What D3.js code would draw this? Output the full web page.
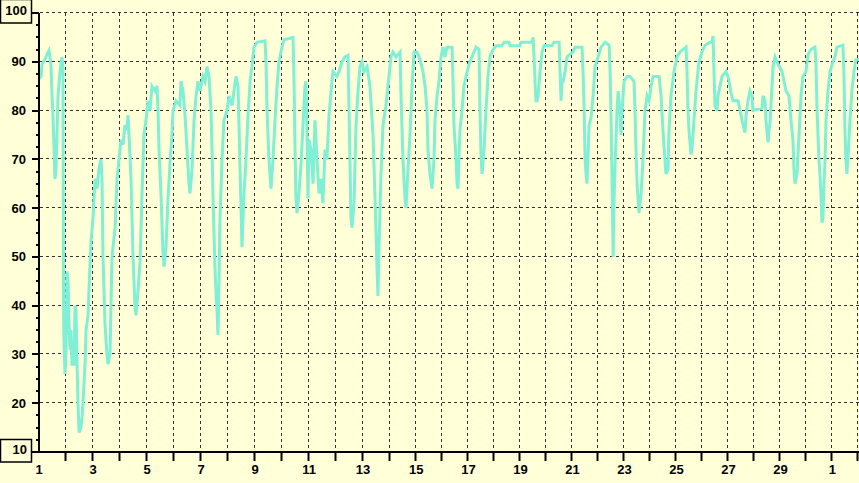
<!DOCTYPE html>
<html><head><meta charset="utf-8">
<script src="https://cdn.jsdelivr.net/npm/d3@7"></script>
<style>html,body{margin:0;padding:0;background:#FFFFD8;overflow:hidden}</style>
</head><body><svg id="c" width="859" height="483"></svg>
<script>
// hours since start of day 1, and relative humidity (%)
const hours = [0,1.8,2.7,5.3,7.1,8.9,9.8,10.7,11.6,12.4,13.3,14.2,15.1,16.9,18.7,20.4,21.3,21.8,22.2,23.1,24.0,24.9,25.8,26.7,27.6,28.4,29.3,31.1,32.0,32.9,33.8,34.7,35.6,37.3,38.2,39.1,40.9,41.8,43.6,44.4,46.2,48.0,49.8,51.6,53.3,55.1,56.0,56.9,58.7,60.4,61.3,63.1,64.9,67.6,69.3,71.1,72.9,74.7,76.4,78.2,79.1,80.0,81.8,83.6,85.3,86.2,88.0,89.8,91.6,93.3,95.1,96.9,98.7,100.4,103.1,104.9,105.8,106.7,108.4,110.2,111.1,112.9,114.7,116.4,118.2,119.1,121.8,125.3,126.2,128.0,129.8,131.6,133.3,134.2,136.0,137.8,139.6,141.3,143.1,145.8,147.6,149.3,151.1,152.9,153.8,154.7,156.4,157.3,158.2,159.1,160.0,160.9,162.7,164.4,167.1,168.9,171.6,173.3,175.1,176.9,177.8,178.7,179.6,180.4,182.2,184.0,185.8,187.6,189.3,191.1,193.8,200.9,201.8,202.7,204.4,206.2,208.0,209.8,211.6,213.3,216.0,217.8,225.8,226.7,227.6,228.4,229.3,231.1,232.9,234.7,236.4,237.3,238.2,239.1,240.0,241.8,243.6,245.3,247.1,248.9,250.7,252.4,254.2,256.0,257.8,260.4,261.3,264.9,266.7,269.3,272.0,274.7,275.6,276.4,277.3,278.2,280.0,281.8,283.6,285.3,287.1,288.9,291.6,294.2,296.9,298.7,299.6,300.4,301.3,302.2,304.0,305.8,308.4,311.1,312.9,314.7,317.5,321.2,322.1,323.9,325.7,326.7,328.5,330.3,332.2,334.0,336.7,339.5,342.2,344.1,345.9,346.8,348.6,350.5,352.3,353.2,355.1,356.9,358.7,360.6,362.4,364.3,368.9,369.8,370.7,372.6,373.5,374.4,376.2,378.1,379.9,381.8,384.6,387.3,391.0,393.8,394.7,395.6,396.6,398.4,400.2,402.1,403.9,406.7,409.5,415.0,416.9,421.5,422.4,431.6,432.6,442.7,443.7,444.6,445.5,446.4,447.4,448.3,450.1,452.0,453.8,461.2,463.0,467.7,468.6,469.5,470.5,471.4,473.2,475.1,480.6,482.5,488.9,489.8,490.8,491.7,492.6,493.5,495.4,497.2,499.1,500.9,503.7,506.5,510.2,513.9,514.8,515.7,516.6,517.6,518.5,519.4,521.2,522.2,523.1,524.0,524.9,525.8,527.7,530.4,533.2,536.9,537.8,538.7,539.7,540.6,541.5,543.4,545.2,547.0,548.9,550.7,552.6,554.4,560.0,561.8,563.6,564.6,566.4,568.3,569.2,571.0,573.8,576.6,579.3,584.9,585.8,586.7,587.6,589.5,590.4,592.2,594.1,596.8,599.6,602.4,607.0,608.8,609.8,610.7,611.6,613.5,614.4,616.2,618.1,621.8,623.6,625.5,626.4,628.2,632.9,634.7,636.6,637.5,639.3,640.3,642.1,643.9,645.8,646.7,655.0,656.0,657.8,658.7,660.6,661.5,662.4,663.3,665.2,667.0,669.8,673.5,675.3,677.2,679.9,681.8,683.6,684.5,685.5,687.3,689.2,691.0,692.8,695.6,697.5,700.2,703.9,704.8,705.8,706.7,707.6,708.5,709.4,710.4,711.3,712.2,713.1,714.1,715.9,717.8,720.5,722.4,724.2,729.7,730.6,731.6,732.5,733.4,734.3,736.2,738.0,739.9,741.7,744.5];
const humidity = [86.5,87,89.5,90.5,91.5,92.3,91,89,83,79,73,66,68,83,88,91,89,40,33,26,30,47,45,36,31,35,28,28,40,39,28,20,14,15,17,20,28,35,38,43,53,58,66,64,68,70,66,50,36,30,28,30,50,56,66,70,74,73,77,76,79,75,66,50,40,38,43,49,63,75,78,82,80,85,84,85,80,72,63,51,48,52,62,69,75,80,82,81,86,84,79,72,65,63,68,78,83,86,84,87,86,89,87,80,72,62,48,43,39,34,45,58,70,78,80,83,81,84,87,85,77,68,60,52,63,70,79,86,89,93,94,94.3,90,80,70,64,70,78,85,90,93,94.5,95,86,72,62,59,63,69,77,85,86,76,62,74,72,65,78,70,63,66,61,72,70,79,86,88,87,88,90,91,91.3,80,70,58,56,61,77,84,89,90,88,89,85,75,62,55,48,42,52,67,77,81,87,91,92,91,92,83,70,62,60,68,75,85,92,92,90.5,88,85,80,72,67,64,70,78,83,86,91,93,91,93,93,86,77,70,65,64,76,80,85,87,89.5,91,93,92.5,80,71,67,72,80,87,91,92.5,93.3,93.3,94,94,93.3,93.3,94,94,95,91,86,82,82,83,88,92,93.3,93.3,94,94,88,82,86,86,88,91,92,93,93,88,81,70,67,65,77,78.5,83,89,91,93,94,93.4,88,78,66,50,62,69,80,84,82,79,75,80,86,87,87,86,80,72,65,62,59,63,70,80,83,82,85,87,87,83,76,72.5,67,68,76,83,88,91,92,93,88,80,76,71,72,78,84,90,92,93.4,94,94,95.3,88,81,80,83,85,87,88,87,85,83.6,82,82,80,78,77,75.5,79,82,84,83,80,80.5,83,82,78,73.5,76,77.5,81,89,91,89.5,88,86,84,83,78,74,68,65,67,75,83,87,88,91.5,92.5,93,90,80,75,70,67,63,57,58,65,69,78,84,88,90,91,93,93.4,88,76,70,67,70,78,84,88,90.4,90.4];
const dayLabels = ["1","3","5","7","9","11","13","15","17","19","21","23","25","27","29","1"];
const yTickValues = [20,30,40,50,60,70,80,90];

const svg = d3.select("#c");
// the original axis is slightly uneven: days 1-14 are wider than later days
const x = d3.scaleLinear().domain([0, 312, 360, 744]).range([39, 390, 442.4, 858.4]);
const y = d3.scaleLinear().domain([10, 100]).range([452, 13]);
const font = "'Liberation Sans', Arial, sans-serif";
const bg = "#FFFFD8";

svg.append("rect").attr("width",859).attr("height",483).attr("fill",bg);

// grid
const grid = svg.append("g").attr("stroke","#333").attr("stroke-width",1).attr("stroke-dasharray","3,3");
d3.range(20, 101, 10).forEach(v => {
  const yy = Math.round(y(v)) - 0.5;
  grid.append("line").attr("x1",40).attr("x2",859).attr("y1",yy).attr("y2",yy);
});
d3.range(24, 745, 24).forEach(h => {
  const xx = Math.round(x(h)) - 0.5;
  grid.append("line").attr("x1",xx).attr("x2",xx).attr("y1",13).attr("y2",451);
});

// data line
const pts = hours.map((h,i)=>[h, humidity[i]]);
svg.append("path").datum(pts)
  .attr("fill","none").attr("stroke","#7FEFD6").attr("stroke-width",3)
  .attr("stroke-linejoin","miter")
  .attr("d", d3.line().x(d=>x(d[0])).y(d=>y(d[1])).curve(d3.curveLinear));

// axes
const ax = svg.append("g").attr("stroke","#000").attr("stroke-width",2);
ax.append("line").attr("x1",39).attr("x2",39).attr("y1",13).attr("y2",453);
ax.append("line").attr("x1",31).attr("x2",859).attr("y1",452).attr("y2",452);
d3.range(10, 100.1, 2.5).forEach(v => {
  const major = v % 10 === 0;
  const yy = Math.round(y(v));
  ax.append("line").attr("x1", major ? 32 : 36).attr("x2",39).attr("y1",yy).attr("y2",yy);
});
d3.range(24, 745, 24).forEach(h => {
  const xx = Math.round(x(h)) - 0.5;
  ax.append("line").attr("x1",xx).attr("x2",xx).attr("y1",452).attr("y2",461);
});

// y labels
yTickValues.forEach(v => {
  svg.append("text").attr("x",26).attr("y",y(v)+4.5).attr("text-anchor","end")
    .attr("font-family",font).attr("font-weight","bold").attr("font-size",13).attr("fill","#000").text(v);
});
svg.append("rect").attr("x",0.5).attr("y",-0.5).attr("width",31).attr("height",23.5).attr("fill",bg).attr("stroke","#000").attr("stroke-width",1.5);
svg.append("text").attr("x",27).attr("y",14.5).attr("text-anchor","end")
  .attr("font-family",font).attr("font-weight","bold").attr("font-size",13).text("100");
svg.append("rect").attr("x",0.5).attr("y",439.5).attr("width",31).attr("height",22.5).attr("fill",bg).attr("stroke","#000").attr("stroke-width",1.5);
svg.append("text").attr("x",27).attr("y",454).attr("text-anchor","end")
  .attr("font-family",font).attr("font-weight","bold").attr("font-size",13).text("10");

// x labels
dayLabels.forEach((lab,i) => {
  svg.append("text").attr("x",x(i*48)).attr("y",474).attr("text-anchor","middle")
    .attr("font-family",font).attr("font-weight","bold").attr("font-size",13).text(lab);
});
</script></body></html>
